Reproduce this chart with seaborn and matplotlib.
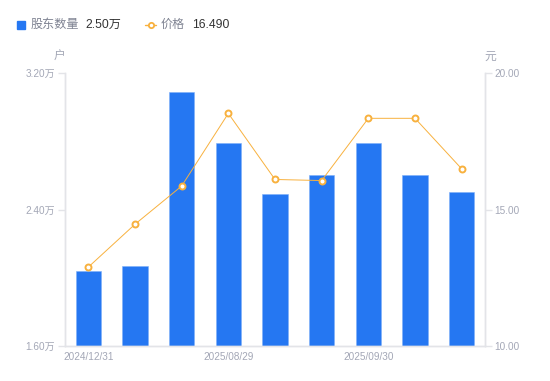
import matplotlib
matplotlib.use("Agg")
import matplotlib.pyplot as plt
from matplotlib.lines import Line2D
from matplotlib.patches import Rectangle
import seaborn as sns
import pandas as pd
import numpy as np

# data
dates = ["2024/12/31", "2025/03/31", "2025/06/30", "2025/08/29", "2025/09/10",
         "2025/09/19", "2025/09/30", "2025/10/20", "2025/10/31"]
holders = [2.04, 2.07, 3.09, 2.79, 2.49, 2.60, 2.79, 2.60, 2.50]  # 万户
price = [12.89, 14.46, 15.86, 18.52, 16.10, 16.06, 18.34, 18.34, 16.49]
shown_dates = [0, 3, 6]
left_ticks = [1.6, 2.4, 3.2]
right_ticks = [10, 15, 20]

BLUE = "#2577F2"
ORANGE = "#F8B13E"
TICK = "#A3A7B6"
AXIS = "#E3E4E8"

sns.set_theme(style="white")
plt.rcParams["font.family"] = ["Liberation Sans", "Noto Sans CJK SC", "DejaVu Sans"]

df = pd.DataFrame({"date": dates, "holders": holders, "price": price,
                   "pos": np.arange(len(dates))})

fig = plt.figure(figsize=(5.5, 3.81), dpi=100)
ax = fig.add_axes([65 / 550, 1 - 346 / 381, 420 / 550, 273 / 381])

sns.barplot(data=df, x="date", y="holders", color=BLUE, saturation=1,
            width=0.54, ax=ax, edgecolor="#7fb0f8", linewidth=0.4)
ax.set_xlim(-0.5, len(dates) - 0.5)
ax.set_ylim(1.6, 3.2)
ax.set_yticks(left_ticks)
ax.set_yticklabels([f"{v:.2f}万" for v in left_ticks])
ax.set_xticks(shown_dates)
ax.set_xticklabels([dates[i] for i in shown_dates])
ax.set_xlabel("")
ax.set_ylabel("")

ax2 = ax.twinx()
sns.lineplot(data=df, x="pos", y="price", color=ORANGE, linewidth=0.7,
             marker="o", markersize=4.3, markerfacecolor="white",
             markeredgecolor=ORANGE, markeredgewidth=1.4, ax=ax2)
ax2.set_ylim(10, 20)
ax2.set_yticks(right_ticks)
ax2.set_yticklabels([f"{v:.2f}" for v in right_ticks])
ax2.set_ylabel("")
ax2.set_xlim(-0.5, len(dates) - 0.5)

for a in (ax, ax2):
    a.spines["top"].set_visible(False)
    for s in ("left", "right", "bottom"):
        a.spines[s].set_color(AXIS)
        a.spines[s].set_linewidth(1)
    a.tick_params(axis="y", length=5, width=1, color=AXIS, labelsize=7.2,
                  labelcolor=TICK, pad=2)
    a.grid(False)
ax.tick_params(axis="x", length=0, labelsize=7.2, labelcolor=TICK, pad=4)
ax2.tick_params(axis="x", length=0)

# unit labels
fig.text(59 / 550, 1 - 57 / 381, "户", fontsize=8.5, color=TICK,
         ha="center", va="center")
fig.text(490 / 550, 1 - 57 / 381, "元", fontsize=8.5, color=TICK,
         ha="center", va="center")

# legend row
ly = 1 - 25 / 381
fig.add_artist(Rectangle((17 / 550, 1 - 29 / 381), 8 / 550, 8 / 381,
                         color=BLUE, transform=fig.transFigure))
fig.text(31 / 550, ly, "股东数量", fontsize=8.7, color="#7F8392", va="center")
fig.text(85 / 550, ly, f"{holders[-1]:.2f}万", fontsize=8.7, color="#333333",
         va="center")
fig.add_artist(Line2D([145 / 550, 156 / 550], [ly, ly], color=ORANGE,
                      linewidth=1, transform=fig.transFigure))
fig.add_artist(Line2D([150.5 / 550], [ly], marker="o", markersize=3.8,
                      markerfacecolor="white", markeredgecolor=ORANGE,
                      markeredgewidth=1.3, transform=fig.transFigure))
fig.text(161 / 550, ly, "价格", fontsize=8.7, color="#7F8392", va="center")
fig.text(192 / 550, ly, f"{price[-1]:.3f}", fontsize=8.7, color="#333333",
         va="center")

fig.savefig("out.png", dpi=100)
